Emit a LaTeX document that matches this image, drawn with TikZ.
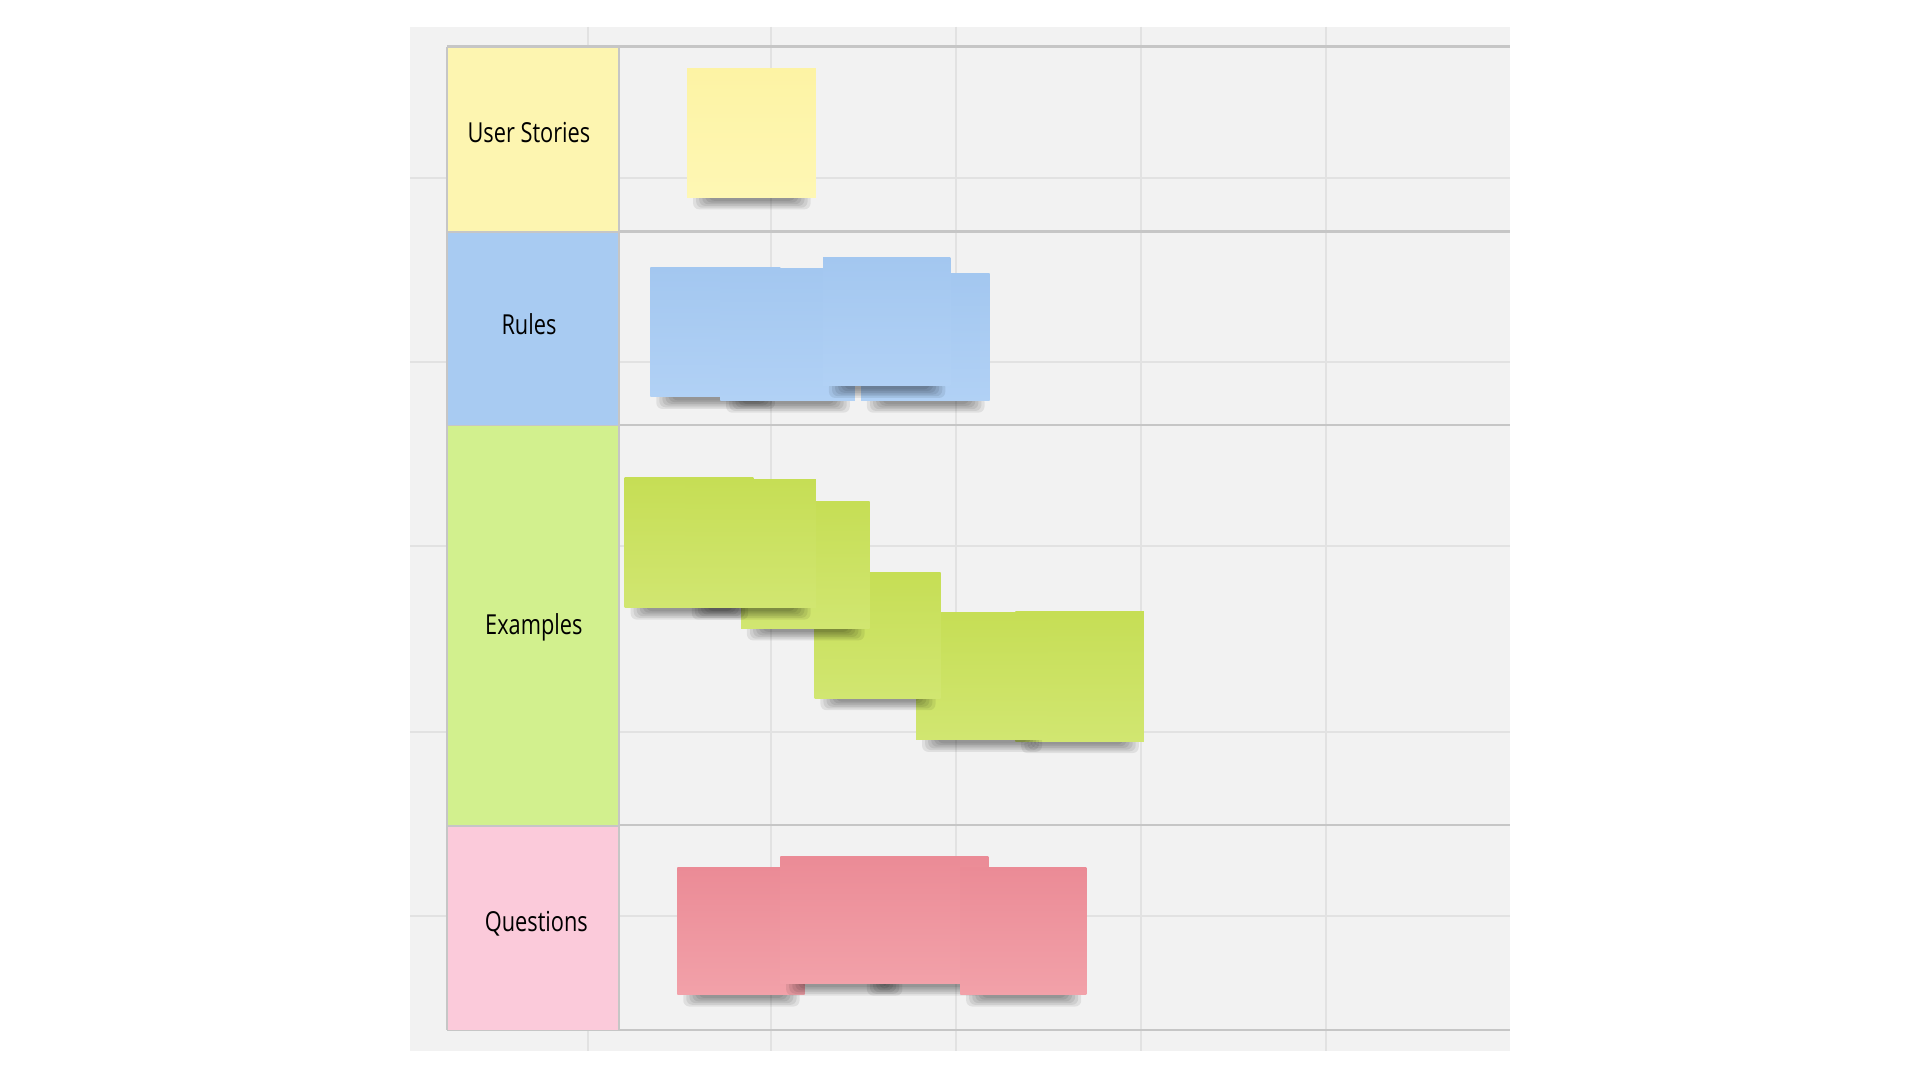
\documentclass[tikz,border=0pt]{standalone}
\usepackage{fontspec}
\setmainfont[FakeStretch=0.79]{Open Sans}
\definecolor{bgc}{HTML}{F2F2F2}
\definecolor{gridc}{HTML}{E2E2E2}
\definecolor{tablec}{HTML}{C6C6C6}
\definecolor{headY}{HTML}{FDF5B0}
\definecolor{headB}{HTML}{A8CBF2}
\definecolor{headG}{HTML}{D2F08E}
\definecolor{headP}{HTML}{FBCADA}
\definecolor{noteYt}{HTML}{FDF3A4}
\definecolor{noteYb}{HTML}{FEF7B4}
\definecolor{noteBt}{HTML}{A3C7F0}
\definecolor{noteBb}{HTML}{B1D1F5}
\definecolor{noteGt}{HTML}{C6DE55}
\definecolor{noteGb}{HTML}{D1E671}
\definecolor{notePt}{HTML}{EB8B96}
\definecolor{notePb}{HTML}{F2A1A9}
\tikzset{
  gridline/.style={draw=gridc, line width=1.6},
  tableline/.style={draw=tablec, line width=1.8},
  headcell/.style={draw=tablec, line width=1.2, minimum width=140, anchor=north west, inner sep=0},
  headtext/.style={inner sep=0, font=\fontsize{22.5}{26}\selectfont, text=black},
  stickyshape/.style={anchor=north west, inner sep=0, draw=none},
  stickyY/.style={stickyshape, top color=noteYt, bottom color=noteYb},
  stickyB/.style={stickyshape, top color=noteBt, bottom color=noteBb},
  stickyG/.style={stickyshape, top color=noteGt, bottom color=noteGb},
  stickyP/.style={stickyshape, top color=notePt, bottom color=notePb},
}
% name, x, y, w, h, style
\newcommand\stickynote[6]{%
  \foreach \k in {0,1,2,3,4,5}{%
    \fill[black, opacity=.075, rounded corners=5]
      ({#2+5+2.5*\k},{#3+#5-4}) rectangle ({#2+#4-4-2.5*\k},{#3+#5+10-1.4*\k});
  }
  \node[#6, minimum width=#4, minimum height=#5] (#1) at (#2,#3) {};
}
\begin{document}
\begin{tikzpicture}[x=1pt,y=-1pt]
\useasboundingbox (0,0) rectangle (1568,882);
\fill[white] (0,0) rectangle (1568,882);
\fill[bgc] (335,22) rectangle (1233,858);
% background grid
\foreach \gx in {480,630,781,932,1083}{\draw[gridline] (\gx,22) -- (\gx,858);}
\foreach \gy in {145,296,446,598,748}{\draw[gridline] (335,\gy) -- (1233,\gy);}
% table lines
\foreach \ry in {38,189,347,674,841}{\draw[tableline] (365,\ry) -- (1233,\ry);}
\draw[tableline] (365,38) -- (365,841);
\draw[tableline] (505,38) -- (505,841);
% header cells
\node[headcell, fill=headY, minimum height=151] (hus) at (365,38) {};
\node[headcell, fill=headB, minimum height=158] (hru) at (365,189) {};
\node[headcell, fill=headG, minimum height=327] (hex) at (365,347) {};
\node[headcell, fill=headP, minimum height=167] (hqu) at (365,674) {};
\node[headtext] (tus) at (432,108) {User Stories};
\node[headtext] (tru) at (432,265) {Rules};
\node[headtext] (tex) at (436,512) {Examples};
\node[headtext] (tqu) at (438,754) {Questions};
% user stories
\stickynote{us1}{561}{56}{105}{105}{stickyY}
% rules
\stickynote{ru1}{531}{218}{106}{106}{stickyB}
\stickynote{ru2}{588}{219}{110}{108}{stickyB}
\stickynote{ru4}{703}{223}{105}{104}{stickyB}
\stickynote{ru3}{672}{210}{104}{105}{stickyB}
% examples
\stickynote{ex5}{829}{499}{105}{106}{stickyG}
\stickynote{ex4}{748}{500}{107}{104}{stickyG}
\stickynote{ex3}{665}{467}{103}{103}{stickyG}
\stickynote{ex2}{605}{409}{105}{104}{stickyG}
\stickynote{ex1}{510}{390}{105}{106}{stickyG}
\stickynote{ex0}{560}{391}{106}{105}{stickyG}
% questions
\stickynote{qu1}{553}{708}{104}{104}{stickyP}
\stickynote{qu2}{637}{699}{104}{104}{stickyP}
\stickynote{qu3}{703}{699}{104}{104}{stickyP}
\stickynote{qu4}{784}{708}{103}{104}{stickyP}
\end{tikzpicture}
\end{document}
